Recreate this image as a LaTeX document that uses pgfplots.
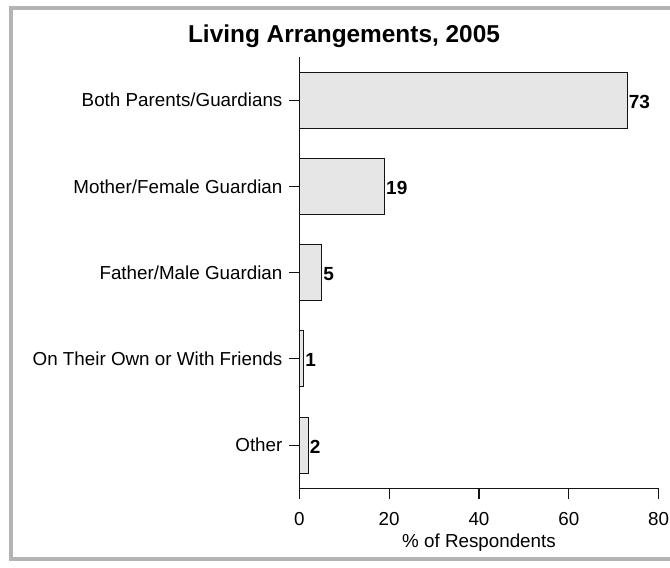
\documentclass[border=0pt]{standalone}
\usepackage{fontspec}
\setmainfont{Liberation Sans}
\usepackage{pgfplots}
\pgfplotsset{compat=1.18}
\definecolor{barfill}{RGB}{230,230,230}
\definecolor{framegray}{RGB}{180,180,180}
\definecolor{ink}{RGB}{20,20,20}

\begin{document}
\begin{tikzpicture}
% page = 670 x 568 px, axis corner at px (299.3,488.3)
\useasboundingbox (-299.3bp,-79.7bp) rectangle (370.7bp,488.3bp);
\draw[framegray, line width=4bp] (390bp,480.3bp) -- (-288.3bp,480.3bp) -- (-288.3bp,-70.2bp) -- (390bp,-70.2bp);
\begin{axis}[
  at={(0,0)}, anchor=south west,
  scale only axis, width=359.4bp, height=431.25bp,
  xbar, bar width=56bp,
  xmin=0, xmax=80, ymin=0.5, ymax=5.5,
  axis lines*=left,
  axis line style={ink, line width=1.1bp},
  tick style={ink, line width=1.1bp},
  tick align=outside, major tick length=10.7bp,
  xtick={0,20,40,60,80},
  ytick={1,2,3,4,5},
  yticklabels={Other, On Their Own or With Friends, Father/Male Guardian, Mother/Female Guardian, Both Parents/Guardians},
  /pgf/number format/assume math mode=true,
  tick label style={font=\fontsize{18.8bp}{20bp}\selectfont, text=black},
  xticklabel style={inner sep=0pt, yshift=-12.7bp, anchor=north},
  yticklabel style={inner sep=0pt, xshift=-6bp, anchor=east},
  xlabel={\% of Respondents},
  xlabel style={font=\fontsize{18.8bp}{20bp}\selectfont, at={(axis description cs:0.5,-0.1384)}, anchor=base},
  title={Living Arrangements, 2005},
  title style={font=\fontsize{24.4bp}{26bp}\selectfont\bfseries, at={(axis description cs:0.1244,1.0203)}, anchor=base},
  point meta=x,
  nodes near coords,
  nodes near coords style={font=\fontsize{19bp}{20bp}\selectfont\bfseries, anchor=west, inner sep=0pt, xshift=1bp, yshift=-1.5bp},
  clip=false,
]
\addplot[fill=barfill, draw=ink, line width=1.1bp] coordinates {
  (73,5) (19,4) (5,3) (1,2) (2,1)
};
\end{axis}
% y axis line runs on past the x axis, as long as a tick
\draw[ink, line width=1.1bp] (0,0) -- (0,-10.7bp);
\end{tikzpicture}
\end{document}
